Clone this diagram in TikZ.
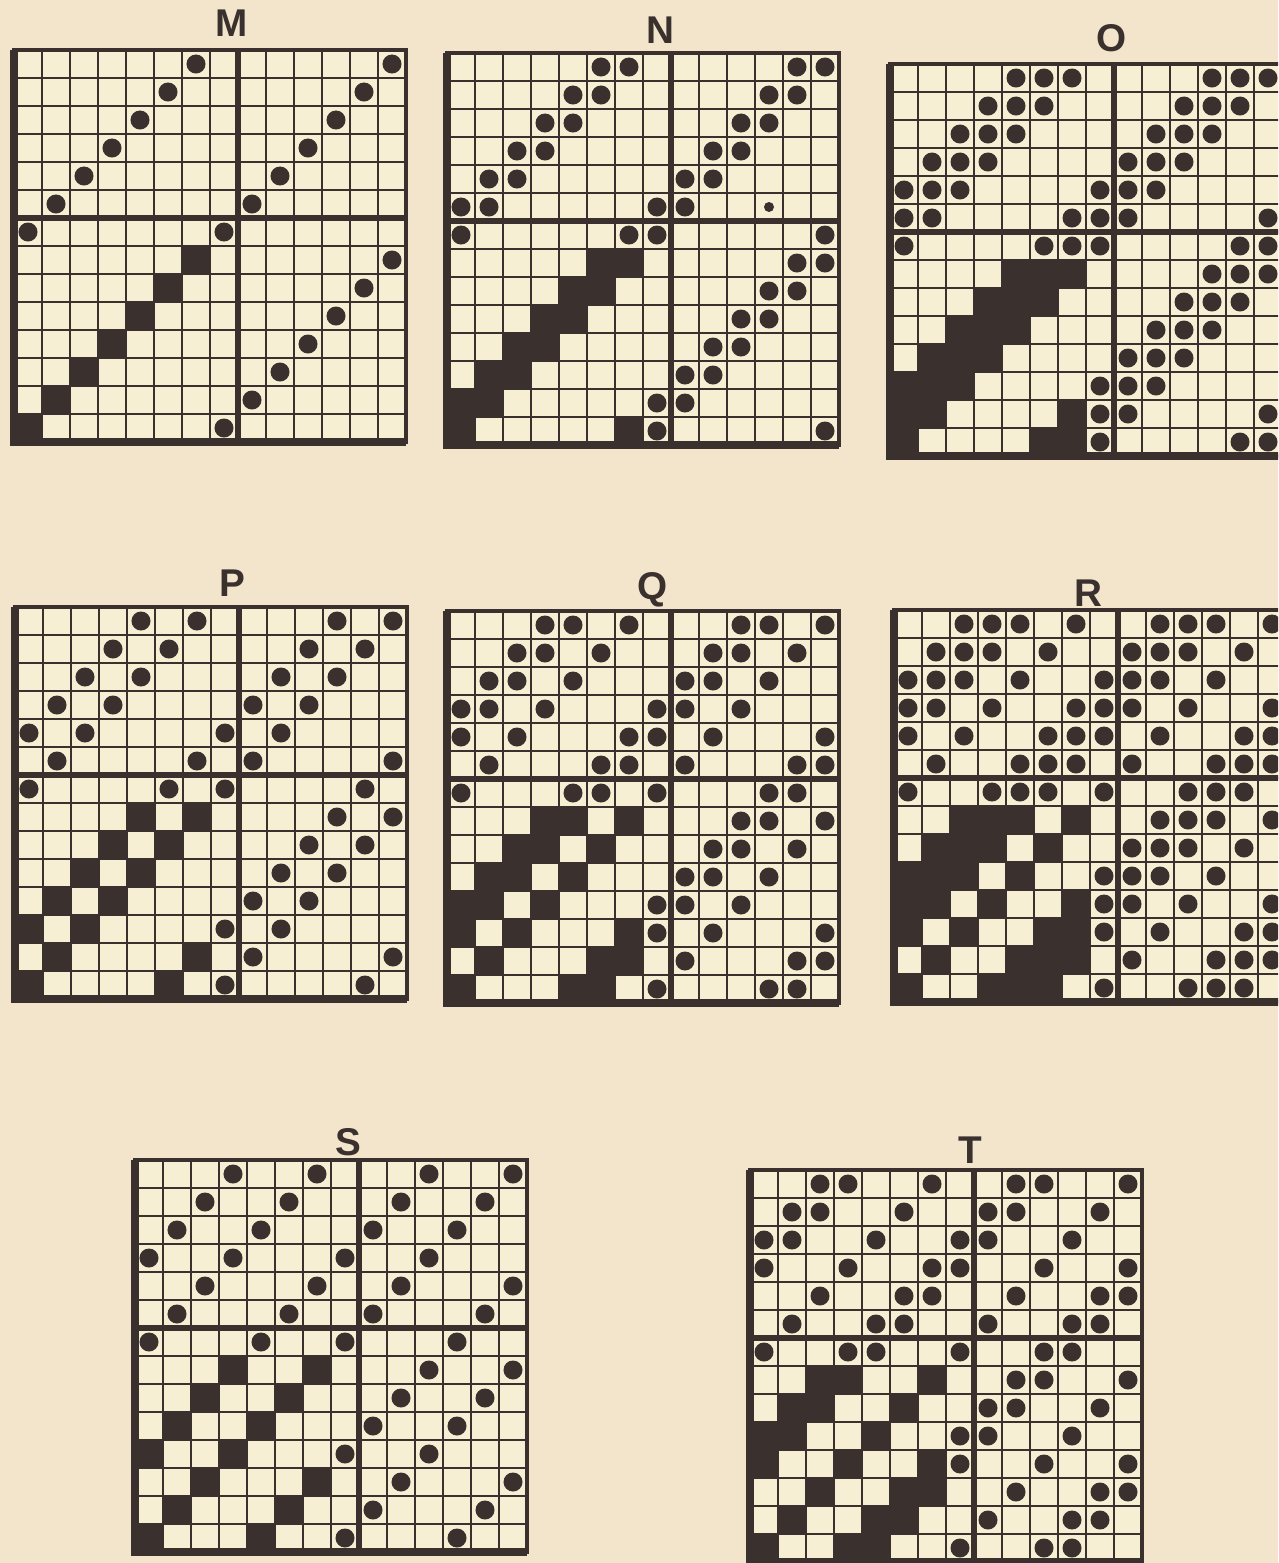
\documentclass[tikz,border=0pt]{standalone}
\usepackage{fontspec}
\setmainfont{Liberation Sans}
\definecolor{paper}{HTML}{F2E5CB}
\definecolor{cellcream}{HTML}{F6EFD3}
\definecolor{ink}{HTML}{3A302E}
\tikzset{
  gridline/.style={draw=ink,line width=0.75pt},
  divider/.style={draw=ink,line width=1.6pt},
  frame/.style={draw=ink,line width=1.1pt},
  heavyedge/.style={draw=ink,line width=2.2pt},
  darkcell/.style={fill=ink},
  dotmark/.style={fill=ink},
  panellabel/.style={font=\bfseries\fontsize{11}{13}\selectfont,
                     text=ink,inner sep=0pt}
}
% one draft: x, y of top left corner, dark cells, dots (row/col)
\newcommand{\draftpanel}[4]{%
  \begin{scope}[shift={(#1,#2)}]
    \fill[cellcream] (0,0) rectangle (392,392);
    \foreach \r/\c in {#3}
      \fill[darkcell] ({(\c-1)*28},{(\r-1)*28}) rectangle ++(28,28);
    \foreach \i in {1,...,13} {
      \draw[gridline] ({\i*28},0) -- ({\i*28},392);
      \draw[gridline] (0,{\i*28}) -- (392,{\i*28});
    }
    \draw[divider] (224,0) -- (224,392);
    \draw[divider] (0,168) -- (392,168);
    \draw[frame] (0,0) rectangle (392,392);
    \draw[heavyedge] (0,0) -- (0,392) -- (392,392);
    \foreach \r/\c in {#4}
      \fill[dotmark] ({(\c-0.5)*28},{(\r-0.5)*28}) circle[radius=0.095cm];
  \end{scope}}

\begin{document}
\begin{tikzpicture}[x=0.01cm,y=-0.01cm]
    \path[use as bounding box] (0,0) rectangle (1278,1563);
    \clip (0,0) rectangle (1278,1563);
    \fill[paper] (0,0) rectangle (1278,1563);

    % M
    \node[panellabel] (labM) at (232,23) {M};
    \draftpanel{14}{50}
      {8/7,9/6,10/5,11/4,12/3,13/2,14/1}
      {1/7,1/14,2/6,2/13,3/5,3/12,4/4,4/11,5/3,5/10,6/2,6/9,7/1,7/8,
       8/14,9/13,10/12,11/11,12/10,13/9,14/8}

    % N
    \node[panellabel] (labN) at (660,30) {N};
    \draftpanel{447}{53}
      {8/6,8/7,9/5,9/6,10/4,10/5,11/3,11/4,12/2,12/3,13/1,13/2,14/1,14/7}
      {1/6,1/7,1/13,1/14,2/5,2/6,2/12,2/13,3/4,3/5,3/11,3/12,
       4/3,4/4,4/10,4/11,5/2,5/3,5/9,5/10,6/1,6/2,6/8,6/9,
       7/1,7/7,7/8,7/14,8/13,8/14,9/12,9/13,10/11,10/12,
       11/10,11/11,12/9,12/10,13/8,13/9,14/8,14/14}
    \fill[dotmark] (447+11.5*28,53+5.5*28) circle[radius=0.05cm];

    % O
    \node[panellabel] (labO) at (1112,38) {O};
    \draftpanel{890}{64}
      {8/5,8/6,8/7,9/4,9/5,9/6,10/3,10/4,10/5,11/2,11/3,11/4,
       12/1,12/2,12/3,13/1,13/2,13/7,14/1,14/6,14/7}
      {1/5,1/6,1/7,1/12,1/13,1/14,2/4,2/5,2/6,2/11,2/12,2/13,
       3/3,3/4,3/5,3/10,3/11,3/12,4/2,4/3,4/4,4/9,4/10,4/11,
       5/1,5/2,5/3,5/8,5/9,5/10,6/1,6/2,6/7,6/8,6/9,6/14,
       7/1,7/6,7/7,7/8,7/13,7/14,8/12,8/13,8/14,9/11,9/12,9/13,
       10/10,10/11,10/12,11/9,11/10,11/11,12/8,12/9,12/10,
       13/8,13/9,13/14,14/8,14/13,14/14}

    % P
    \node[panellabel] (labP) at (232,583) {P};
    \draftpanel{15}{607}
      {8/5,8/7,9/4,9/6,10/3,10/5,11/2,11/4,12/1,12/3,13/2,13/7,14/1,14/6}
      {1/5,1/7,1/12,1/14,2/4,2/6,2/11,2/13,3/3,3/5,3/10,3/12,
       4/2,4/4,4/9,4/11,5/1,5/3,5/8,5/10,6/2,6/7,6/9,6/14,
       7/1,7/6,7/8,7/13,8/12,8/14,9/11,9/13,10/10,10/12,
       11/9,11/11,12/8,12/10,13/9,13/14,14/8,14/13}

    % Q
    \node[panellabel] (labQ) at (653,590) {Q};
    \draftpanel{447}{611}
      {8/4,8/5,8/7,9/3,9/4,9/6,10/2,10/3,10/5,11/1,11/2,11/4,
       12/1,12/3,12/7,13/2,13/6,13/7,14/1,14/5,14/6}
      {1/4,1/5,1/7,1/11,1/12,1/14,2/3,2/4,2/6,2/10,2/11,2/13,
       3/2,3/3,3/5,3/9,3/10,3/12,4/1,4/2,4/4,4/8,4/9,4/11,
       5/1,5/3,5/7,5/8,5/10,5/14,6/2,6/6,6/7,6/9,6/13,6/14,
       7/1,7/5,7/6,7/8,7/12,7/13,8/11,8/12,8/14,9/10,9/11,9/13,
       10/9,10/10,10/12,11/8,11/9,11/11,12/8,12/10,12/14,
       13/9,13/13,13/14,14/8,14/12,14/13}

    % R
    \node[panellabel] (labR) at (1088,593) {R};
    \draftpanel{894}{610}
      {8/3,8/4,8/5,8/7,9/2,9/3,9/4,9/6,10/1,10/2,10/3,10/5,
       11/1,11/2,11/4,11/7,12/1,12/3,12/6,12/7,13/2,13/5,13/6,13/7,
       14/1,14/4,14/5,14/6}
      {1/3,1/4,1/5,1/7,1/10,1/11,1/12,1/14,2/2,2/3,2/4,2/6,2/9,2/10,2/11,2/13,
       3/1,3/2,3/3,3/5,3/8,3/9,3/10,3/12,4/1,4/2,4/4,4/7,4/8,4/9,4/11,4/14,
       5/1,5/3,5/6,5/7,5/8,5/10,5/13,5/14,6/2,6/5,6/6,6/7,6/9,6/12,6/13,6/14,
       7/1,7/4,7/5,7/6,7/8,7/11,7/12,7/13,8/10,8/11,8/12,8/14,
       9/9,9/10,9/11,9/13,10/8,10/9,10/10,10/12,11/8,11/9,11/11,11/14,
       12/8,12/10,12/13,12/14,13/9,13/12,13/13,13/14,14/8,14/11,14/12,14/13}

    % S
    \node[panellabel] (labS) at (348,1142) {S};
    \draftpanel{135}{1160}
      {8/4,8/7,9/3,9/6,10/2,10/5,11/1,11/4,12/3,12/7,13/2,13/6,14/1,14/5}
      {1/4,1/7,1/11,1/14,2/3,2/6,2/10,2/13,3/2,3/5,3/9,3/12,
       4/1,4/4,4/8,4/11,5/3,5/7,5/10,5/14,6/2,6/6,6/9,6/13,
       7/1,7/5,7/8,7/12,8/11,8/14,9/10,9/13,10/9,10/12,
       11/8,11/11,12/10,12/14,13/9,13/13,14/8,14/12}

    % T
    \node[panellabel] (labT) at (970,1150) {T};
    \draftpanel{750}{1170}
      {8/3,8/4,8/7,9/2,9/3,9/6,10/1,10/2,10/5,11/1,11/4,11/7,
       12/3,12/6,12/7,13/2,13/5,13/6,14/1,14/4,14/5}
      {1/3,1/4,1/7,1/10,1/11,1/14,2/2,2/3,2/6,2/9,2/10,2/13,
       3/1,3/2,3/5,3/8,3/9,3/12,4/1,4/4,4/7,4/8,4/11,4/14,
       5/3,5/6,5/7,5/10,5/13,5/14,6/2,6/5,6/6,6/9,6/12,6/13,
       7/1,7/4,7/5,7/8,7/11,7/12,8/10,8/11,8/14,9/9,9/10,9/13,
       10/8,10/9,10/12,11/8,11/11,11/14,12/10,12/13,12/14,
       13/9,13/12,13/13,14/8,14/11,14/12}
  \end{tikzpicture}
\end{document}
